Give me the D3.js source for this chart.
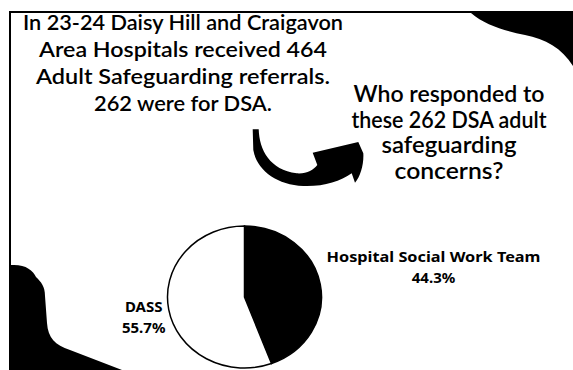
<!DOCTYPE html>
<html>
<head>
<meta charset="utf-8">
<script src="https://cdn.jsdelivr.net/npm/d3@7"></script>
<style>
  html, body { margin: 0; padding: 0; background: #fff; }
  svg { display: block; }
</style>
</head>
<body>
<svg id="chart" width="573" height="370"></svg>
<script>
// chart values
var categories = ['Hospital Social Work Team', 'DASS'];
var shares = [44.3, 55.7];
var shareLabels = ['44.3%', '55.7%'];
var sliceColors = ['#000', '#fff'];

var introLines = ['In 23-24 Daisy Hill and Craigavon', 'Area Hospitals received 464',
  'Adult Safeguarding referrals.', '262 were for DSA.'];
var questionLines = ['Who responded to', 'these 262 DSA adult', 'safeguarding', 'concerns?'];

var svg = d3.select('#chart');
var W = 573, H = 370;

svg.append('rect').attr('width', W).attr('height', H).attr('fill', '#fff');

// decorative blobs in the corners
svg.append('path')
  .attr('d', 'M471,13 C485,25 505,31 525,35 C545,39 562,48 573,66 L573,13 Z')
  .attr('fill', '#000');
svg.append('path')
  .attr('d', 'M11,265 C25,264 33,270 36,277 C41,282 45,286 45,296 L47,323 C48,338 55,345 70,350 L122,370 L11,370 Z')
  .attr('fill', '#000');

// frame (top and left edge only, the rest is cropped)
svg.append('path')
  .attr('d', 'M10,370 L10,12 L573,12')
  .attr('fill', 'none')
  .attr('stroke', '#000')
  .attr('stroke-width', 2);

// intro text, fitted to the widths seen in the picture
var introWidths = [320, 288, 294, 178];
svg.append('g').selectAll('text')
  .data(introLines)
  .join('text')
  .attr('x', 183)
  .attr('y', function(d, i) { return 30 + i * 27; })
  .attr('text-anchor', 'middle')
  .attr('font-family', 'Lato, sans-serif')
  .attr('font-weight', 600)
  .attr('font-size', 21)
  .attr('textLength', function(d, i) { return introWidths[i]; })
  .attr('lengthAdjust', 'spacingAndGlyphs')
  .attr('fill', '#000')
  .text(function(d) { return d; });

var questionWidths = [191, 195, 135, 109];
svg.append('g').selectAll('text')
  .data(questionLines)
  .join('text')
  .attr('x', 449)
  .attr('y', function(d, i) { return 102 + i * 25.5; })
  .attr('text-anchor', 'middle')
  .attr('font-family', 'Lato, sans-serif')
  .attr('font-weight', 600)
  .attr('font-size', 22)
  .attr('textLength', function(d, i) { return questionWidths[i]; })
  .attr('lengthAdjust', 'spacingAndGlyphs')
  .attr('fill', '#000')
  .text(function(d) { return d; });

// curved arrow
svg.append('path')
  .attr('d', 'M252.7,129.3 L258.7,129.3 C259.3,150 270,170 296.7,173.3 ' +
    'C306.7,174 313.3,170 317.3,165 L312.7,152.7 L358.3,142 L363.3,153.3 ' +
    'C364,163.3 360.7,176.7 355,182.7 L351.7,173.3 C340,181.7 323.3,186.7 303.3,186 ' +
    'C276.7,185 256.7,170 253.3,150 Z')
  .attr('fill', '#000');

// pie (slightly squashed vertically like the picture)
var cx = 244.5, cy = 297, rx = 77, ry = 71;
var pie = d3.pie().sort(null).value(function(d) { return d; });
var arc = d3.arc().innerRadius(0).outerRadius(rx);
var arcs = pie(shares);

var pieG = svg.append('g')
  .attr('transform', 'translate(' + cx + ',' + cy + ') scale(1,' + (ry / rx) + ')');
pieG.selectAll('path')
  .data(arcs)
  .join('path')
  .attr('d', arc)
  .attr('fill', function(d, i) { return sliceColors[i]; })
  .attr('stroke', '#000')
  .attr('stroke-width', 1.5)
  .attr('vector-effect', 'non-scaling-stroke');

// labels outside, beside the slice
var labelG = svg.append('g')
  .attr('font-family', '"Noto Sans", sans-serif')
  .attr('font-weight', 700)
  .attr('font-size', 15)
  .attr('fill', '#000')
  .attr('text-anchor', 'middle');

arcs.forEach(function(a, i) {
  var mid = (a.startAngle + a.endAngle) / 2;
  var side = Math.sin(mid) >= 0 ? 1 : -1;
  var g = labelG.append('g');
  var t1 = g.append('text').attr('y', 0)
    .attr('textLength', side > 0 ? 214 : null)
    .attr('lengthAdjust', 'spacingAndGlyphs')
    .text(categories[i]);
  g.append('text').attr('y', 20.5).text(shareLabels[i]);
  var half = (side > 0 ? 214 : t1.node().getComputedTextLength()) / 2;
  var lx = cx + side * (rx + 5 + half);
  var ly = side > 0 ? cy - 35 : cy + 15;
  g.attr('transform', 'translate(' + lx + ',' + ly + ')');
});
</script>
</body>
</html>
